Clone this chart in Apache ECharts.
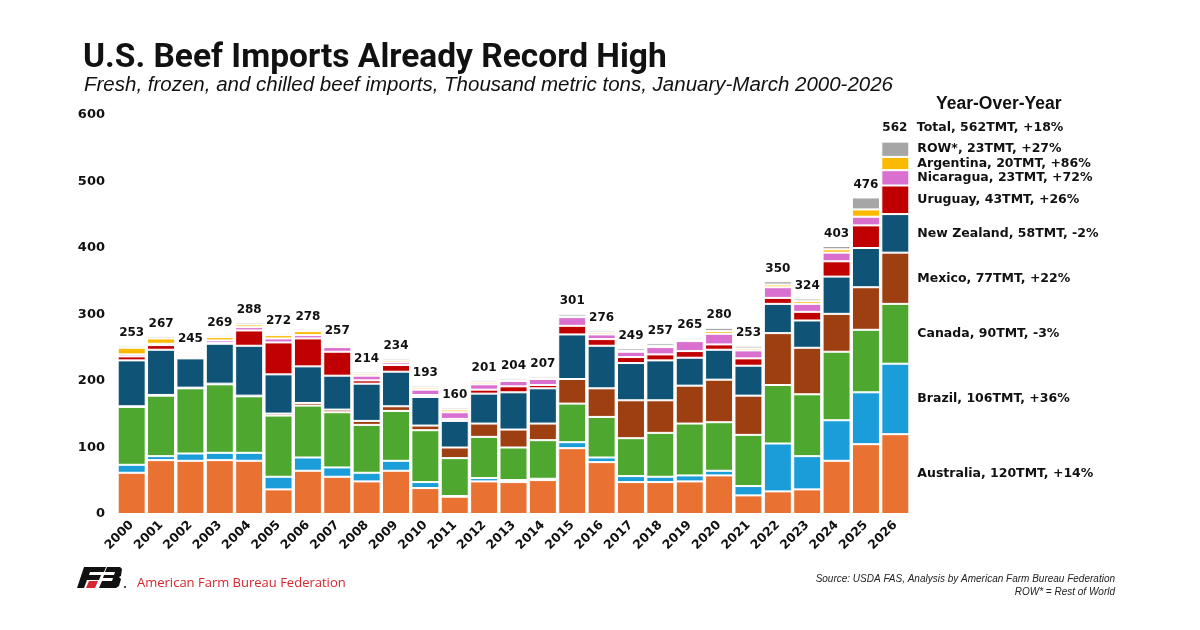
<!DOCTYPE html>
<html><head><meta charset="utf-8">
<script src="https://cdn.jsdelivr.net/npm/echarts@6/dist/echarts.min.js"></script>
<style>html,body{margin:0;padding:0;background:#fff}#c{width:1200px;height:630px}</style>
</head><body><div id="c"></div>
<script>
const years = ['2000','2001','2002','2003','2004','2005','2006','2007','2008','2009','2010','2011','2012','2013','2014','2015','2016','2017','2018','2019','2020','2021','2022','2023','2024','2025','2026'];
const australia  = [62,81,80,81,80,37,65,56,49,65,39,26,49,48,51,99,78,48,48,49,58,28,34,37,80,105,120];
const brazil     = [12,6,11,11,12,19,20,14,13,15,9,1,5,3,2,9,7,9,8,9,7,14,72,50,61,78,106];
const canada     = [87,91,98,103,85,92,78,83,72,75,78,57,62,49,58,58,61,57,66,78,73,77,88,93,103,94,90];
const mexico     = [1,1,1,1,1,3,4,4,6,7,7,16,20,27,25,37,43,57,49,57,64,59,78,70,57,64,77];
const newZealand = [69,68,44,60,75,59,55,51,56,52,43,40,45,56,53,67,64,56,60,42,45,45,44,41,56,59,58];
const uruguay    = [6,7,2,1,23,48,42,36,5,10,3,3,6,9,5,13,10,9,9,10,8,11,9,13,23,34,43];
const nicaragua  = [3,2,3,4,5,6,5,7,7,4,8,10,8,8,9,13,7,8,11,15,16,12,16,12,13,13,23];
const argentina  = [10,8,3,5,4,5,6,3,3,3,3,4,3,1,1,1,3,1,2,2,4,3,4,4,5,11,20];
const row        = [3,3,3,3,3,3,3,3,3,3,3,3,3,3,3,4,3,4,4,3,5,4,5,4,5,18,23];
const totals     = [253,267,245,269,288,272,278,257,214,234,193,160,201,204,207,301,276,249,257,265,280,253,350,324,403,476,562];
const seriesNames = ['Australia','Brazil','Canada','Mexico','New Zealand','Uruguay','Nicaragua','Argentina','ROW*'];
const yoyChange   = ['+14%','+36%','-3%','+22%','-2%','+26%','+72%','+86%','+27%'];
const totalYoY    = '+18%';
const yTicks = [0,100,200,300,400,500,600];

const seriesValues = [australia, brazil, canada, mexico, newZealand, uruguay, nicaragua, argentina, row];
const colors = ['#E97132','#1A9DD9','#4EA72E','#9E3F12','#0F5477','#C00000','#D96FCF','#FBBA00','#A6A6A6'];
const last = years.length - 1;
const lblFont = 'DejaVu Sans';

const series = seriesNames.map((n, i) => ({
  name: n, type: 'bar', stack: 'total', barWidth: 28,
  itemStyle: { color: colors[i], borderColor: '#fff', borderWidth: 1 },
  emphasis: { disabled: true },
  data: seriesValues[i].map((v, j) => j === last ? {
    value: v,
    label: { show: true, position: 'right', distance: 8, fontFamily: lblFont, fontWeight: 'bold', fontSize: 12.5, color: '#111',
      formatter: `${n}, ${v}TMT, ${yoyChange[i]}` }
  } : v)
}));

series.push({
  name: 'Total', type: 'scatter', symbolSize: 1, z: 10,
  itemStyle: { color: 'rgba(0,0,0,0)', opacity: 1 },
  emphasis: { disabled: true },
  label: { show: true, position: 'top', distance: 6, fontFamily: lblFont, fontWeight: 'bold', fontSize: 12, color: '#111', opacity: 1,
    formatter: p => String(p.value) },
  data: totals.map((t, j) => j === last ? {
    value: t,
    label: {
      position: [-15, -12], align: 'left', verticalAlign: 'middle',
      formatter: `{a|${t}}{b|Total, ${t}TMT, ${totalYoY}}`,
      rich: {
        a: { width: 30, align: 'center', fontFamily: lblFont, fontWeight: 'bold', fontSize: 12, color: '#111' },
        b: { padding: [0, 0, 0, 7], fontFamily: lblFont, fontWeight: 'bold', fontSize: 12.5, color: '#111' }
      }
    }
  } : t)
});

const chart = echarts.init(document.getElementById('c'), null, { renderer: 'canvas' });
chart.setOption({
  animation: false,
  backgroundColor: '#fff',
  title: [
    { text: 'U.S. Beef Imports Already Record High', left: 78, top: 37,
      textStyle: { fontFamily: 'Liberation Sans Narrow, Roboto, sans-serif', fontWeight: 'bold', fontSize: 33.5, color: '#111' } },
    { text: 'Fresh, frozen, and chilled beef imports, Thousand metric tons, January-March 2000-2026', left: 79, top: 70,
      textStyle: { fontFamily: 'Liberation Sans', fontStyle: 'italic', fontWeight: 'normal', fontSize: 20.5, color: '#111' } },
    { text: 'Year-Over-Year', left: 931, top: 90,
      textStyle: { fontFamily: 'Liberation Sans', fontWeight: 'bold', fontSize: 17.5, color: '#111' } },
    { text: 'Source: USDA FAS, Analysis by American Farm Bureau Federation', right: 80, top: 569,
      textStyle: { fontFamily: 'Liberation Sans', fontStyle: 'italic', fontWeight: 'normal', fontSize: 10, color: '#222' } },
    { text: 'ROW* = Rest of World', right: 80, top: 582,
      textStyle: { fontFamily: 'Liberation Sans', fontStyle: 'italic', fontWeight: 'normal', fontSize: 10, color: '#222' } },
    { text: 'American Farm Bureau Federation', left: 132, top: 572,
      textStyle: { fontFamily: 'Open Sans', fontWeight: 'normal', fontSize: 13, color: '#D7262E' } }
  ],
  grid: { left: 117, right: 290, top: 115, bottom: 116 },
  xAxis: {
    type: 'category', data: years,
    axisLine: { show: false }, axisTick: { show: false },
    axisLabel: { rotate: 45, margin: 9, fontFamily: lblFont, fontWeight: 'bold', fontSize: 12.5, color: '#111', interval: 0 }
  },
  yAxis: {
    type: 'value', min: 0, max: 600, interval: 100,
    axisLine: { show: false }, axisTick: { show: false }, splitLine: { show: false },
    axisLabel: { margin: 12, fontFamily: lblFont, fontWeight: 'bold', fontSize: 13, color: '#111',
      formatter: v => yTicks.includes(v) ? String(v) : '' }
  },
  series: series,
  graphic: [
    { type: 'polygon', shape: { points: [[84,567],[106,567],[104,572],[90,572],[89,575],[101,575],[99,580],[87,580],[84,588],[77,588]] }, style: { fill: '#111' } },
    { type: 'polygon', shape: { points: [[89,581],[98,581],[95,588],[86,588]] }, style: { fill: '#D7262E' } },
    { type: 'polygon', shape: { points: [[107,567],[120,567],[122,569],[121,576],[119,577],[121,579],[119,586],[116,588],[99,588],[102,581],[112,581],[113,578],[103,578],[104,575],[114,575],[115,572],[105,572]] }, style: { fill: '#111' } },
    { type: 'circle', shape: { cx: 125, cy: 587, r: 1 }, style: { fill: '#111' } }
  ]
});
</script>
</body></html>
